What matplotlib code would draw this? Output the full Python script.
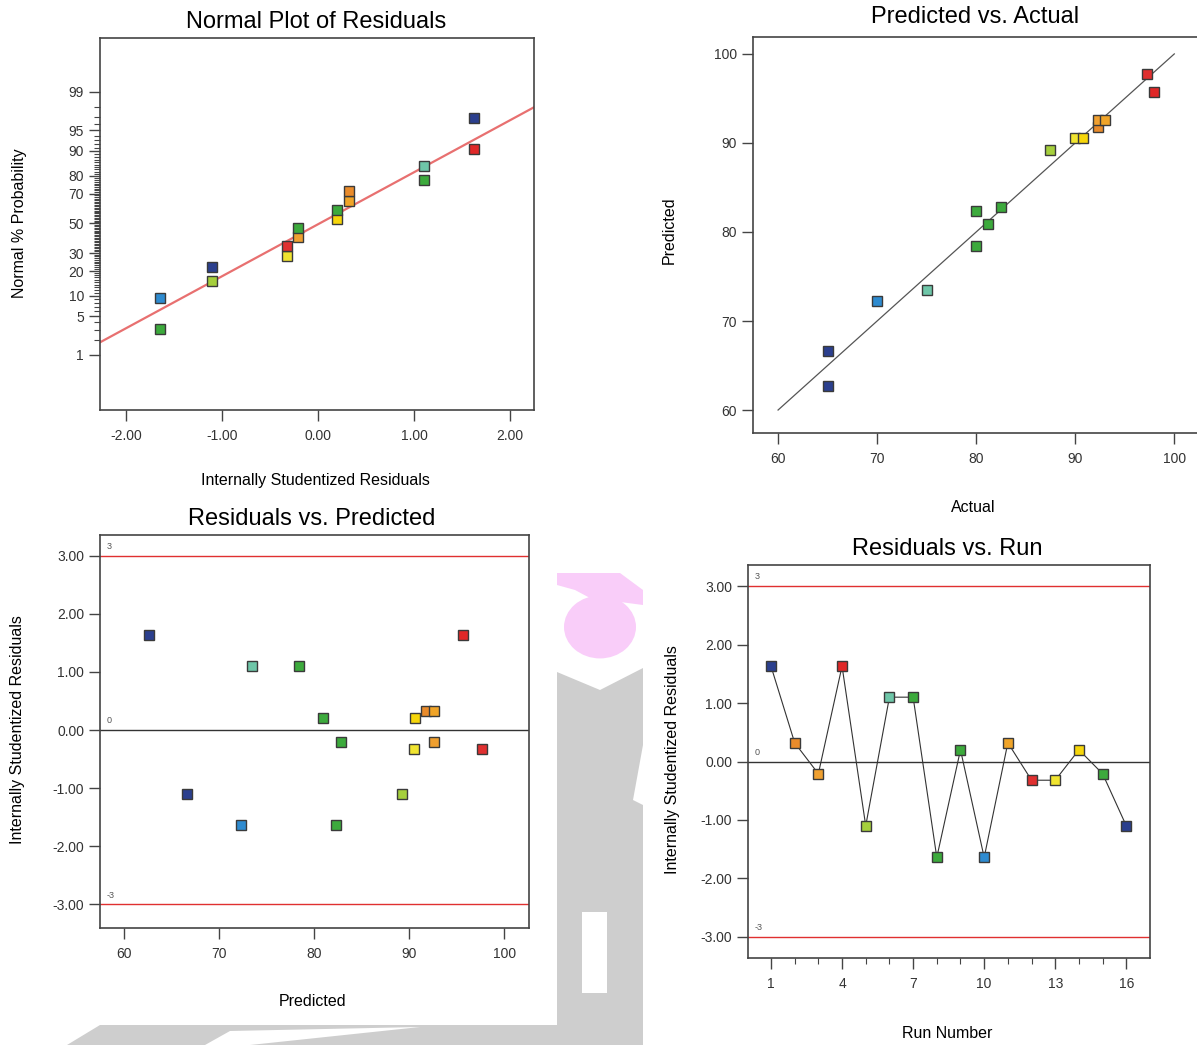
import statistics
import numpy as np
import matplotlib
matplotlib.use('Agg')
import matplotlib.pyplot as plt
from matplotlib.patches import Circle, Polygon

plt.rcParams['font.family'] = ['Liberation Sans', 'DejaVu Sans']

W, H = 1197, 1045

# ---- data ----
runs = list(range(1, 17))
residuals = [1.63, 0.32, -0.21, 1.63, -1.10, 1.10, 1.10, -1.64,
             0.20, -1.64, 0.32, -0.32, -0.32, 0.20, -0.21, -1.10]
predicted = [62.7, 91.8, 92.6, 95.7, 89.2, 73.5, 78.4, 82.3,
             80.9, 72.3, 92.6, 97.7, 90.5, 90.6, 82.8, 66.6]
actual = [65.0, 92.3, 92.3, 98.0, 87.5, 75.0, 80.0, 80.0,
          81.2, 70.0, 93.0, 97.2, 90.0, 90.8, 82.5, 65.0]
point_colors = ['#2B3F8E', '#E98B2B', '#F0A030', '#E02828', '#A5CF3C', '#6EC6A8', '#3CAA3C', '#3CAA3C',
                '#3CAA3C', '#2E8BD0', '#F0A428', '#E03030', '#F0E430', '#F6D60A', '#3CAA3C', '#2B3F8E']

# normal plot: run order from lowest to highest and their % probability
normal_order = [8, 10, 5, 16, 13, 12, 3, 15, 14, 9, 11, 2, 7, 6, 4, 1]
normal_prob = [3.1, 9.4, 15.6, 21.9, 28.1, 34.4, 40.6, 46.9,
               53.1, 59.4, 65.6, 71.9, 78.1, 84.4, 90.6, 96.9]
prob_ticks = [1, 5, 10, 20, 30, 50, 70, 80, 90, 95, 99]
fit_slope, fit_icpt = 0.92, -0.015   # normal line in z units

diag_range = [60, 100]
limit_lines = [3, 0, -3]
limit_colors = ['#E03030', '#333333', '#E03030']

nd = statistics.NormalDist()
EDGE = '#3A3A3A'
SPINE = '#444444'

fig = plt.figure(figsize=(W / 100, H / 100), dpi=100)


def px_axes(l, t, r, b):
    ax = fig.add_axes([l / W, 1 - b / H, (r - l) / W, (b - t) / H])
    ax.set_zorder(2)
    ax.set_facecolor('white')
    for s in ax.spines.values():
        s.set_color(SPINE)
        s.set_linewidth(1.2)
    ax.tick_params(direction='out', length=8, width=1, color=SPINE,
                   labelsize=10, labelcolor='#333333', top=False, right=False)
    return ax


def ftext(x, y, s, **kw):
    t = fig.text(x / W, 1 - y / H, s, ha='center', va='center', **kw)
    t.set_zorder(3)


def fpoly(pts, color, z=-2):
    fig.patches.append(Polygon([(x / W, 1 - y / H) for x, y in pts], closed=True,
                               transform=fig.transFigure, facecolor=color, edgecolor='none', zorder=z))


# ---- watermark behind the panels ----
bg = '#CECECE'
pink = '#F9CDF9'
fpoly([(557, 672), (600, 690), (643, 668), (643, 1045), (557, 1045)], bg)
fpoly([(67, 1045), (100, 1025), (557, 1025), (557, 1045)], bg)
fpoly([(205, 1045), (230, 1031), (420, 1027), (250, 1045)], 'white')
fpoly([(582, 912), (607, 912), (607, 993), (582, 993)], 'white')
fpoly([(643, 745), (633, 800), (643, 805)], 'white')
fpoly([(557, 573), (620, 573), (643, 590), (643, 605), (590, 598), (575, 590), (557, 585)], pink)
fig.patches.append(Circle((600 / W, 1 - 627 / H), 36 / W, transform=fig.transFigure,
                          facecolor=pink, edgecolor='none', zorder=-2))
# white panel backgrounds on top of the watermark
fpoly([(0, 500), (556, 500), (556, 1018), (0, 1018)], 'white', z=-1)
fpoly([(643, 520), (1197, 520), (1197, 1045), (643, 1045)], 'white', z=-1)

# ---- 1: Normal plot of residuals ----
ax1 = px_axes(100, 38, 534, 410)
xs = [residuals[r - 1] for r in normal_order]
zs = [nd.inv_cdf(p / 100) for p in normal_prob]
cols = [point_colors[r - 1] for r in normal_order]
xl = np.array([-2.27, 2.25])
ax1.plot(xl, fit_slope * xl + fit_icpt, color='#E87070', lw=1.6, zorder=2)
for x, z, c in zip(xs, zs, cols):
    ax1.plot(x, z, 's', ms=7.5, mfc=c, mec=EDGE, mew=1, zorder=3)
ax1.set_xlim(-2.27, 2.25)
ax1.set_ylim(-3.30, 3.28)
ax1.set_xticks([-2, -1, 0, 1, 2])
ax1.set_xticklabels(['%.2f' % v for v in [-2, -1, 0, 1, 2]])
ax1.set_yticks([nd.inv_cdf(p / 100) for p in prob_ticks])
ax1.set_yticklabels([str(p) for p in prob_ticks])
minor_p = [p for p in range(2, 99) if p not in prob_ticks]
ax1.set_yticks([nd.inv_cdf(p / 100) for p in minor_p], minor=True)
ax1.tick_params(axis='y', which='minor', length=4, width=0.8, color=SPINE)
ax1.tick_params(axis='x', pad=6)
ftext(316, 22, 'Normal Plot of Residuals', fontsize=17)
ftext(315, 481, 'Internally Studentized Residuals', fontsize=11.5)
ftext(20, 223, 'Normal % Probability', fontsize=11.5, rotation=90)

# ---- 2: Predicted vs. Actual ----
ax2 = px_axes(753, 37, 1205, 433)
ax2.plot(diag_range, diag_range, color='#555555', lw=0.9, zorder=2)
for a, p, c in zip(actual, predicted, point_colors):
    ax2.plot(a, p, 's', ms=7.5, mfc=c, mec=EDGE, mew=1, zorder=3)
ax2.set_xlim(57.47, 103.1)
ax2.set_ylim(57.42, 101.9)
ax2.set_xticks([60, 70, 80, 90, 100])
ax2.set_yticks([60, 70, 80, 90, 100])
ax2.tick_params(axis='x', pad=6)
ftext(975, 17, 'Predicted vs. Actual', fontsize=17)
ftext(973, 508, 'Actual', fontsize=11.5)
ftext(669, 230, 'Predicted', fontsize=11.5, rotation=90)


def limit_marks(ax, x_left):
    for v, c in zip(limit_lines, limit_colors):
        ax.axhline(v, color=c, lw=1, zorder=1)
        ax.text(x_left, v + 0.08, str(v), fontsize=6.5, color='#555555', va='bottom', ha='left')


res_ticks = [3, 2, 1, 0, -1, -2, -3]

# ---- 3: Residuals vs. Predicted ----
ax3 = px_axes(100, 535, 529, 928)
limit_marks(ax3, 58.2)
for p, r, c in zip(predicted, residuals, point_colors):
    ax3.plot(p, r, 's', ms=7.5, mfc=c, mec=EDGE, mew=1, zorder=3)
ax3.set_xlim(57.5, 102.6)
ax3.set_ylim(-3.41, 3.36)
ax3.set_xticks([60, 70, 80, 90, 100])
ax3.set_yticks(res_ticks)
ax3.set_yticklabels(['%.2f' % v for v in res_ticks])
ax3.tick_params(axis='x', pad=6)
ftext(312, 519, 'Residuals vs. Predicted', fontsize=17)
ftext(313, 1001, 'Predicted', fontsize=11.5)
ftext(18, 730, 'Internally Studentized Residuals', fontsize=11.5, rotation=90)

# ---- 4: Residuals vs. Run ----
ax4 = px_axes(748, 565, 1150, 958)
limit_marks(ax4, 0.3)
ax4.plot(runs, residuals, color='#333333', lw=0.8, zorder=2)
for n, r, c in zip(runs, residuals, point_colors):
    ax4.plot(n, r, 's', ms=7.5, mfc=c, mec=EDGE, mew=1, zorder=3)
ax4.set_xlim(0.03, 17.0)
ax4.set_ylim(-3.36, 3.36)
ax4.set_xticks([1, 4, 7, 10, 13, 16])
ax4.set_xticks(runs, minor=True)
ax4.tick_params(axis='x', which='minor', length=4, width=0.8, color=SPINE)
ax4.set_yticks(res_ticks)
ax4.set_yticklabels(['%.2f' % v for v in res_ticks])
ax4.tick_params(axis='x', pad=6)
ftext(947, 549, 'Residuals vs. Run', fontsize=17)
ftext(947, 1033, 'Run Number', fontsize=11.5)
ftext(673, 760, 'Internally Studentized Residuals', fontsize=11.5, rotation=90)

fig.savefig('out.png', dpi=100)
